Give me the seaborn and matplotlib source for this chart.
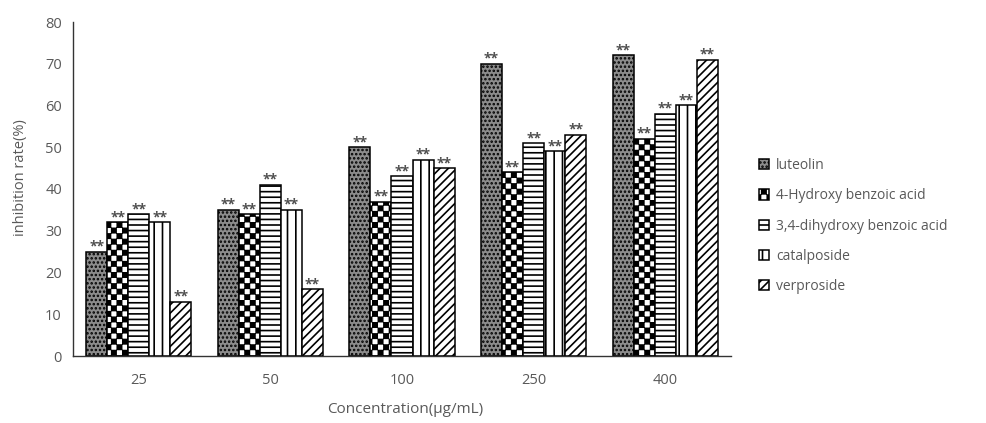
import warnings
import numpy as np
import pandas as pd
import matplotlib
matplotlib.use("Agg")
import matplotlib.pyplot as plt
import matplotlib.hatch as mhatch
from matplotlib.path import Path
import seaborn as sns

warnings.filterwarnings("ignore")

# ---- data -------------------------------------------------------------
concentrations = ["25", "50", "100", "250", "400"]
compounds = ["luteolin", "4-Hydroxy benzoic acid", "3,4-dihydroxy benzoic acid",
             "catalposide", "verproside"]
luteolin = [25, 35, 50, 70, 72]
hydroxy_benzoic = [32, 34, 37, 44, 52]
dihydroxy_benzoic = [34, 41, 43, 51, 58]
catalposide = [32, 35, 47, 49, 60]
verproside = [13, 16, 45, 53, 71]
significance = ["**", "**", "**", "**", "**"]
y_ticks = [0, 10, 20, 30, 40, 50, 60, 70, 80]


# ---- a checkerboard hatch, selected with '#' in a hatch string ---------
class CheckerHatch(mhatch.HatchPatternBase):
    def __init__(self, hatch, density):
        n = int(hatch.count("#") * density)
        n += n % 2
        self.n = n
        self.cells = [(i, j) for i in range(n) for j in range(n) if (i + j) % 2 == 0]
        self.num_vertices = 5 * len(self.cells)

    def set_vertices_and_codes(self, vertices, codes):
        s = 1.0 / self.n
        inset = 0.006
        for k, (i, j) in enumerate(self.cells):
            x0, y0 = i * s + inset, j * s + inset
            x1, y1 = (i + 1) * s - inset, (j + 1) * s - inset
            vertices[5 * k:5 * k + 5] = [(x0, y0), (x1, y0), (x1, y1), (x0, y1), (x0, y0)]
            codes[5 * k] = Path.MOVETO
            codes[5 * k + 1:5 * k + 4] = Path.LINETO
            codes[5 * k + 4] = Path.CLOSEPOLY


mhatch._hatch_types.append(CheckerHatch)

# ---- long-form table ---------------------------------------------------
series = [luteolin, hydroxy_benzoic, dihydroxy_benzoic, catalposide, verproside]
df = pd.DataFrame({
    "Concentration": np.tile(concentrations, len(compounds)),
    "rate": np.concatenate(series),
    "compound": np.repeat(compounds, len(concentrations)),
})

sns.set_style("white")
plt.rcParams["font.family"] = ["Open Sans", "DejaVu Sans"]
plt.rcParams["hatch.linewidth"] = 1.2

text_gray = "#595959"

fig = plt.figure(figsize=(9.87, 4.23), dpi=100)
ax = fig.add_axes([73 / 987, 1 - 356 / 423, (731 - 73) / 987, (356 - 22) / 423])

sns.barplot(data=df, x="Concentration", y="rate", hue="compound",
            order=concentrations, hue_order=compounds,
            palette=["white"] * 5, width=0.8, edgecolor="black",
            linewidth=1.1, legend=False, ax=ax, errorbar=None)

styles = [("#8c8c8c", "...."), ("white", "###"), ("white", "---"),
          ("white", "||"), ("white", "////")]
for cont, (face, hatch) in zip(ax.containers, styles):
    for bar in cont:
        bar.set_facecolor(face)
        bar.set_hatch(hatch)
        bar.set_edgecolor("black")

# significance marks over every bar
for cont in ax.containers:
    for bar, mark in zip(cont, significance):
        ax.text(bar.get_x() + bar.get_width() / 2, bar.get_height() + 1.2, mark,
                ha="center", va="center", fontsize=10, fontweight="bold",
                color="#505050")

ax.set_ylim(0, 80)
ax.set_yticks(y_ticks)
ax.set_xlim(-0.5, 4.5)
ax.set_xlabel("")
ax.set_ylabel("")
for side in ["top", "right"]:
    ax.spines[side].set_visible(False)
ax.spines["left"].set_color("#333333")
ax.spines["bottom"].set_color("#333333")
ax.spines["left"].set_linewidth(1.0)
ax.spines["bottom"].set_linewidth(1.0)
ax.tick_params(axis="y", length=0, pad=8, labelsize=10.5, labelcolor=text_gray)
ax.tick_params(axis="x", length=0, pad=12, labelsize=10.5, labelcolor=text_gray)

fig.text(405 / 987, 1 - 409 / 423, "Concentration(μg/mL)", ha="center", va="center",
         fontsize=11, color=text_gray)
fig.text(21 / 987, 1 - 178 / 423, "inhibition rate(%)", ha="center", va="center",
         rotation=90, fontsize=10.5, color=text_gray)

fig.legend(ax.containers, compounds, loc="upper left",
           bbox_to_anchor=(759 / 987, 1 - 158 / 423), frameon=False,
           handlelength=0.75, handleheight=0.75, handletextpad=0.5,
           labelspacing=1.1, borderpad=0, borderaxespad=0,
           fontsize=10, labelcolor=text_gray)

fig.savefig("out.png", dpi=100)
